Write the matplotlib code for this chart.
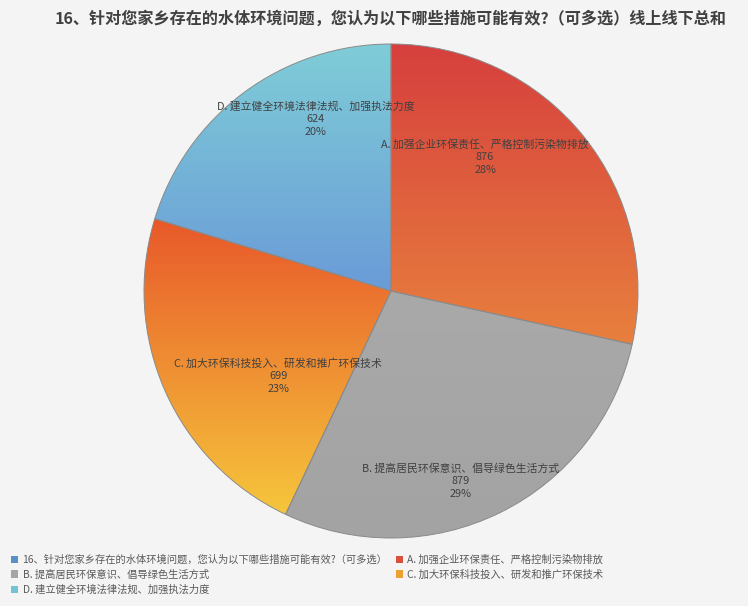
import numpy as np
import matplotlib.pyplot as plt
from matplotlib.colors import LinearSegmentedColormap
from matplotlib.patches import Patch

plt.rcParams['font.family'] = ['Noto Sans CJK SC', 'DejaVu Sans']

title = "16、针对您家乡存在的水体环境问题，您认为以下哪些措施可能有效?（可多选）线上线下总和"
series_name = "16、针对您家乡存在的水体环境问题，您认为以下哪些措施可能有效?（可多选）"
categories = ["A. 加强企业环保责任、严格控制污染物排放",
              "B. 提高居民环保意识、倡导绿色生活方式",
              "C. 加大环保科技投入、研发和推广环保技术",
              "D. 建立健全环境法律法规、加强执法力度"]
counts = [876, 879, 699, 624]
percents = ["28%", "29%", "23%", "20%"]

# gradient top -> bottom for each slice
grads = [("#d63f3d", "#e8803e"),
         ("#a9a9a9", "#a3a3a3"),
         ("#e8582a", "#f6c63c"),
         ("#7fcdd7", "#6a9bd8")]
legend_cols = ["#d9503c", "#a5a5a5", "#eda032", "#74c2d3"]

# label positions (pie radius units)
label_pos = [(0.381, 0.543), (0.283, -0.769), (-0.457, -0.344), (-0.304, 0.696)]

bg = "#f4f4f4"
fig = plt.figure(figsize=(7.48, 6.06), dpi=100, facecolor=bg)
ax = fig.add_axes([144 / 748, 68 / 606, 494 / 748, 494 / 606])
ax.set_facecolor(bg)

wedges, _ = ax.pie(counts, startangle=90, counterclock=False, radius=1,
                   wedgeprops=dict(edgecolor="#8a8a8a", linewidth=0.7))

for w, (c1, c2) in zip(wedges, grads):
    w.set_facecolor("none")
    w.set_zorder(3)
    verts = w.get_path().vertices
    y0, y1 = verts[:, 1].min(), verts[:, 1].max()
    cmap = LinearSegmentedColormap.from_list("g", [c1, c2])
    grad = np.linspace(0, 1, 256).reshape(-1, 1)
    im = ax.imshow(grad, cmap=cmap, extent=(-1.02, 1.02, y0, y1),
                   aspect="auto", origin="upper", zorder=2)
    im.set_clip_path(w)

for (x, y), cat, n, p in zip(label_pos, categories, counts, percents):
    ax.text(x, y, f"{cat}\n{n}\n{p}", ha="center", va="center",
            fontsize=7.8, color="#404040", linespacing=1.35, zorder=5)

ax.set_xlim(-1, 1)
ax.set_ylim(-1, 1)
ax.set_aspect("equal")
ax.axis("off")

fig.text(391 / 748, 1 - 18 / 606, title, ha="center", va="center",
         fontsize=11.6, fontweight="bold", color="#404040")

handles = [Patch(facecolor="#5b8fc8", label=series_name),
           Patch(facecolor=legend_cols[1], label=categories[1]),
           Patch(facecolor=legend_cols[3], label=categories[3]),
           Patch(facecolor=legend_cols[0], label=categories[0]),
           Patch(facecolor=legend_cols[2], label=categories[2])]
fig.legend(handles=handles, ncol=2, loc="lower left",
           bbox_to_anchor=(2 / 748, 2 / 606), frameon=False, fontsize=7.4,
           labelcolor="#595959", handlelength=0.7, handleheight=0.7,
           handletextpad=0.4, columnspacing=0.8, labelspacing=0.45)

fig.savefig("out.png", dpi=100, facecolor=bg)
